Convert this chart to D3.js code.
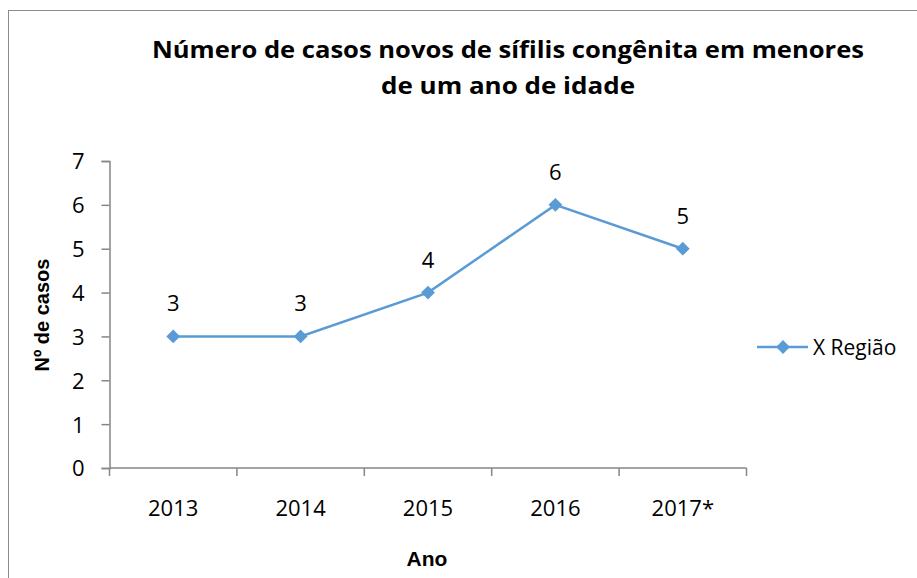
<!DOCTYPE html>
<html>
<head>
<meta charset="utf-8">
<script src="https://cdn.jsdelivr.net/npm/d3@7"></script>
<style>
  body { margin: 0; background: #fff; }
  text { font-family: "Open Sans", "DejaVu Sans", sans-serif; fill: #000; }
</style>
</head>
<body>
<script>
// chart data
var anos = ['2013', '2014', '2015', '2016', '2017*'];
var casos = [3, 3, 4, 6, 5];
var yTicks = [0, 1, 2, 3, 4, 5, 6, 7];
var serie = 'X Região';

var width = 917, height = 578;
var azul = '#5b9bd5';
var cinza = '#868686';

var svg = d3.select('body').append('svg')
    .attr('width', width)
    .attr('height', height);

// outer chart border (runs off the right and bottom)
svg.append('rect')
    .attr('x', 8.5).attr('y', 10.5)
    .attr('width', 1000).attr('height', 1000)
    .attr('fill', 'none')
    .attr('stroke', '#8c8c8c')
    .attr('stroke-width', 1);

// plot area
var pLeft = 109.5, pRight = 746.5, pTop = 161, pBottom = 468;

var x = d3.scaleBand().domain(anos).range([pLeft, pRight]);
var y = d3.scaleLinear().domain([0, 7]).range([pBottom, pTop]);

// y axis
var yAxis = svg.append('g')
    .attr('transform', 'translate(' + pLeft + ',0)')
    .call(d3.axisLeft(y).tickValues(yTicks).tickSize(8).tickPadding(17).tickFormat(d3.format('d')));
yAxis.selectAll('line, path').attr('stroke', cinza).attr('stroke-width', 1.5);
yAxis.selectAll('text').style('font-size', '22px').attr('dy', '0.36em');

// x axis, ticks sit between the categories
var xAxis = svg.append('g')
    .attr('transform', 'translate(0,' + pBottom + ')');
xAxis.append('line')
    .attr('x1', pLeft).attr('x2', pRight)
    .attr('stroke', cinza).attr('stroke-width', 1.5);
xAxis.selectAll('.tk')
    .data(anos.map(function(d) { return x(d); }).concat([pRight]))
    .enter().append('line')
    .attr('x1', function(d) { return d; })
    .attr('x2', function(d) { return d; })
    .attr('y1', 0).attr('y2', 8)
    .attr('stroke', cinza).attr('stroke-width', 1.5);
xAxis.selectAll('.lbl')
    .data(anos)
    .enter().append('text')
    .attr('x', function(d) { return x(d) + x.bandwidth() / 2; })
    .attr('y', 48)
    .attr('text-anchor', 'middle')
    .style('font-size', '22px')
    .text(function(d) { return d; });

// line
var pontos = anos.map(function(d, i) { return { ano: d, v: casos[i] }; });
var linha = d3.line()
    .x(function(d) { return x(d.ano) + x.bandwidth() / 2; })
    .y(function(d) { return y(d.v); });

svg.append('path')
    .datum(pontos)
    .attr('d', linha)
    .attr('fill', 'none')
    .attr('stroke', azul)
    .attr('stroke-width', 2.5);

var losango = d3.symbol().type(d3.symbolSquare).size(95);

svg.selectAll('.mk')
    .data(pontos)
    .enter().append('path')
    .attr('d', losango)
    .attr('transform', function(d) { return 'translate(' + (x(d.ano) + x.bandwidth() / 2) + ',' + y(d.v) + ') rotate(45)'; })
    .attr('fill', azul);

// data labels
svg.selectAll('.dl')
    .data(pontos)
    .enter().append('text')
    .attr('x', function(d) { return x(d.ano) + x.bandwidth() / 2; })
    .attr('y', function(d) { return y(d.v) - 25; })
    .attr('text-anchor', 'middle')
    .style('font-size', '22px')
    .text(function(d) { return d.v; });

// title
var titulo = svg.append('text')
    .attr('text-anchor', 'middle')
    .style('font-size', '24px')
    .style('font-weight', 'bold');
titulo.append('tspan').attr('x', 508).attr('y', 58)
    .attr('textLength', 712).attr('lengthAdjust', 'spacingAndGlyphs')
    .text('Número de casos novos de sífilis congênita em menores');
titulo.append('tspan').attr('x', 508).attr('y', 94)
    .attr('textLength', 254).attr('lengthAdjust', 'spacingAndGlyphs')
    .text('de um ano de idade');

// axis titles
svg.append('text')
    .attr('transform', 'translate(49,315) rotate(-90)')
    .attr('text-anchor', 'middle')
    .style('font-family', '"Liberation Sans", Arial, sans-serif')
    .style('font-size', '20px')
    .style('font-weight', 'bold')
    .text('Nº de casos');

svg.append('text')
    .attr('x', 427).attr('y', 566)
    .attr('text-anchor', 'middle')
    .style('font-family', '"Liberation Sans", Arial, sans-serif')
    .style('font-size', '21px')
    .style('font-weight', 'bold')
    .text('Ano');

// legend
var leg = svg.append('g').attr('transform', 'translate(757,347)');
leg.append('line').attr('x1', 0).attr('x2', 51)
    .attr('stroke', azul).attr('stroke-width', 2.5);
leg.append('path').attr('d', losango)
    .attr('transform', 'translate(26,0) rotate(45)')
    .attr('fill', azul);
leg.append('text').attr('x', 56).attr('y', 0).attr('dy', '0.36em')
    .style('font-size', '21px')
    .text(serie);
</script>
</body>
</html>
